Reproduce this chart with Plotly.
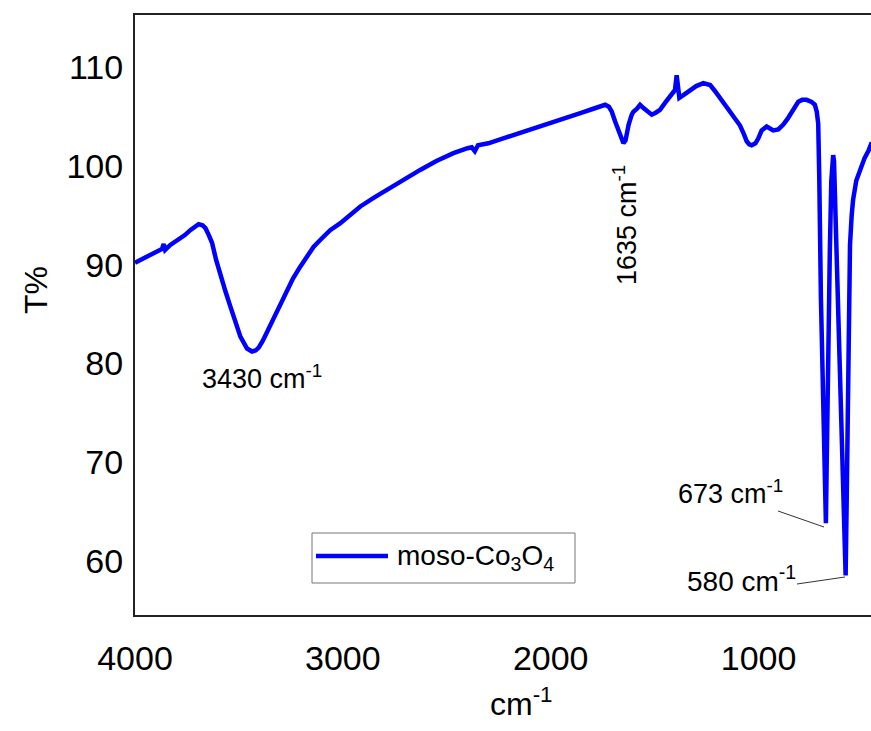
import plotly.graph_objects as go

# Wavenumber (cm-1) and transmittance (T%)
wavenumber = [
    4000, 3950, 3900, 3870, 3862, 3855, 3830, 3800, 3782, 3760, 3734, 3710, 3694, 3675,
    3661, 3645, 3629, 3610, 3589, 3565, 3541, 3515, 3493, 3461, 3437, 3420, 3405, 3385,
    3365, 3340, 3317, 3290, 3269, 3240, 3205, 3170, 3141, 3109, 3061, 3012, 2960, 2916,
    2850, 2788, 2700, 2628, 2550, 2468, 2400, 2380, 2365, 2350, 2300, 2227, 2150, 2067,
    1990, 1907, 1850, 1795, 1760, 1738, 1720, 1706, 1690, 1682, 1665, 1650, 1640, 1625,
    1610, 1602, 1585, 1570, 1555, 1538, 1514, 1495, 1474, 1450, 1426, 1402, 1394, 1388,
    1381, 1360, 1330, 1300, 1266, 1233, 1210, 1185, 1150, 1121, 1100, 1089, 1070, 1057,
    1045, 1033, 1015, 1001, 985, 961, 945, 929, 905, 881, 860, 841, 820, 809, 790, 769,
    745, 729, 720, 713, 708, 705, 700, 690, 680, 676, 672, 665, 657, 650, 645, 641, 637,
    632, 625, 615, 600, 590, 581, 576, 570, 565, 560, 552, 545, 530, 512, 490, 470, 455,
]
transmittance = [
    90.2, 90.7, 91.2, 91.6, 92.1, 91.5, 92.0, 92.4, 92.6, 93.0, 93.5, 93.9, 94.1, 94.0,
    93.7, 93.0, 92.2, 90.5, 88.8, 87.3, 85.75, 84.1, 82.7, 81.5, 81.2, 81.3, 81.6, 82.3,
    83.2, 84.3, 85.4, 86.5, 87.4, 88.6, 89.8, 90.9, 91.8, 92.5, 93.5, 94.2, 95.1, 95.9,
    96.8, 97.6, 98.7, 99.6, 100.5, 101.3, 101.8, 101.9, 101.5, 102.1, 102.3, 102.8, 103.3, 103.8,
    104.4, 105.0, 105.4, 105.8, 106.0, 106.2, 106.0, 105.5, 104.5, 104.0, 103.0, 102.3, 102.6, 104.2,
    105.2, 105.5, 105.8, 106.2, 105.9, 105.6, 105.2, 105.4, 105.7, 106.4, 107.1, 107.7, 109.2, 107.5,
    106.9, 107.2, 107.6, 108.1, 108.4, 108.2, 107.6, 106.9, 105.9, 105.0, 104.5, 104.1, 103.2, 102.5,
    102.2, 102.1, 102.3, 102.8, 103.6, 104.0, 103.8, 103.6, 103.7, 104.2, 104.8, 105.5, 106.3, 106.5, 106.7, 106.7,
    106.5, 106.2, 105.5, 104.3, 99.0, 91.5, 86.7, 77.2, 67.6, 63.8, 70.0, 83.0, 91.5, 98.5, 100.6, 101.1, 100.5,
    97.0, 91.5, 83.0, 72.0, 64.0, 58.5, 66.0, 78.0, 87.0, 92.0, 95.0, 96.6, 98.5, 99.6, 100.8, 101.6, 102.4,
]

x_ticks = [4000, 3000, 2000, 1000]
y_ticks = [60, 70, 80, 90, 100, 110]

series_name = "moso-Co<sub>3</sub>O<sub>4</sub>"
peak_labels = ["3430 cm<sup>-1</sup>", "1635 cm<sup>-1</sup>", "673 cm<sup>-1</sup>", "580 cm<sup>-1</sup>"]

FONT = "Arial, Liberation Sans, sans-serif"
BLUE = "#0000FF"

fig = go.Figure()
fig.add_trace(go.Scatter(
    x=wavenumber, y=transmittance, mode="lines",
    line=dict(color=BLUE, width=4.5), name=series_name, showlegend=False,
))

W, H = 871, 731
L, R, T, B = 135, 0, 15, 116
pw, ph = W - L - R, H - T - B


def px(xp):
    return (xp - L) / pw


def py(yp):
    return (H - B - yp) / ph


fig.update_layout(
    width=W, height=H,
    margin=dict(l=L, r=R, t=T, b=B),
    plot_bgcolor="white", paper_bgcolor="white",
    font=dict(family=FONT, color="black"),
    xaxis=dict(
        range=[4000, 459], tickvals=x_ticks, ticks="", showgrid=False, zeroline=False,
        showline=True, linecolor="#222", linewidth=2, mirror=True,
        tickfont=dict(size=34, family=FONT), ticklabelstandoff=12,
    ),
    yaxis=dict(
        range=[54.5, 115.3], tickvals=y_ticks, ticks="", showgrid=False, zeroline=False,
        showline=True, linecolor="#222", linewidth=2, mirror=False,
        tickfont=dict(size=34, family=FONT), ticklabelstandoff=3,
    ),
    showlegend=False,
)

annotations = [
    # axis titles
    dict(x=px(36), y=py(290), xref="paper", yref="paper", text="T%", textangle=-90,
         showarrow=False, font=dict(size=32), xanchor="center", yanchor="middle"),
    dict(x=px(521), y=py(702), xref="paper", yref="paper", text="cm<sup>-1</sup>",
         showarrow=False, font=dict(size=32), xanchor="center", yanchor="middle"),
    # peak labels
    dict(x=px(262), y=py(377), xref="paper", yref="paper", text=peak_labels[0], showarrow=False,
         font=dict(size=27), xanchor="center", yanchor="middle"),
    dict(x=px(625), y=py(225), xref="paper", yref="paper", text=peak_labels[1], textangle=-90,
         showarrow=False, font=dict(size=27), xanchor="center", yanchor="middle"),
    dict(x=px(785), y=py(492), xref="paper", yref="paper", text=peak_labels[2], showarrow=False,
         font=dict(size=27), xanchor="right", yanchor="middle"),
    dict(x=px(798), y=py(579), xref="paper", yref="paper", text=peak_labels[3], showarrow=False,
         font=dict(size=28), xanchor="right", yanchor="middle"),
    # legend text
    dict(x=px(395), y=py(557), xref="paper", yref="paper", text=series_name, showarrow=False,
         font=dict(size=28), xanchor="left", yanchor="middle"),
]
fig.update_layout(annotations=annotations)

shapes = [
    # leader lines
    dict(type="line", xref="paper", yref="paper", x0=px(778), y0=py(511), x1=px(824), y1=py(527),
         line=dict(color="#333", width=1)),
    dict(type="line", xref="paper", yref="paper", x0=px(797), y0=py(584), x1=px(845), y1=py(577),
         line=dict(color="#333", width=1)),
    # legend box and sample line
    dict(type="rect", xref="paper", yref="paper", x0=px(312), y0=py(583), x1=px(575), y1=py(533),
         line=dict(color="#777", width=1), fillcolor="white", layer="below"),
    dict(type="line", xref="paper", yref="paper", x0=px(316), y0=py(556), x1=px(388), y1=py(556),
         line=dict(color=BLUE, width=4.5)),
]
fig.update_layout(shapes=shapes)

fig.write_html(
    "out.html",
    config={"displayModeBar": False},
    post_script="document.body.style.margin='0';document.body.style.overflow='hidden';",
)
